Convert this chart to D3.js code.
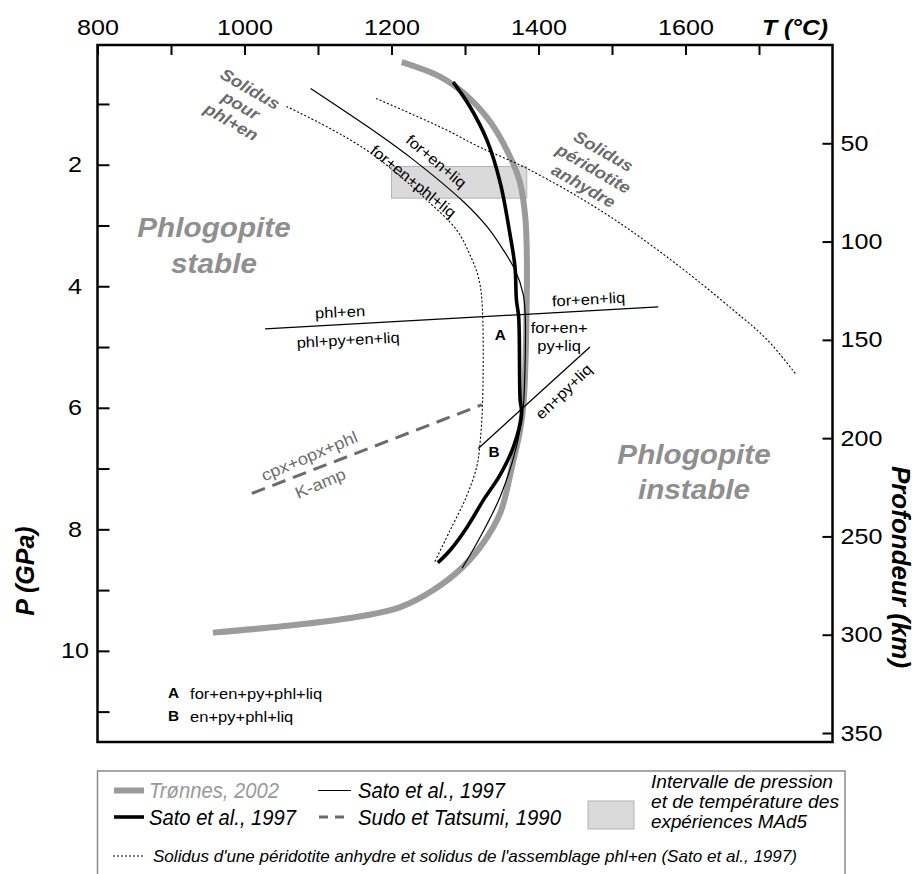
<!DOCTYPE html>
<html>
<head>
<meta charset="utf-8">
<script src="https://cdn.jsdelivr.net/npm/d3@7"></script>
<style>
  body { margin: 0; background: #fff; }
  svg { display: block; }
  text { font-family: "Liberation Sans", Arial, Helvetica, sans-serif; }
</style>
</head>
<body>
<svg id="chart" width="923" height="874"></svg>
<script>
// ---- Axis ticks -------------------------------------------------------
const tempTicks   = [800, 900, 1000, 1100, 1200, 1300, 1400, 1500, 1600, 1700];
const tempLabels  = [800, 1000, 1200, 1400, 1600];
const pressTicks  = [1, 2, 3, 4, 5, 6, 7, 8, 9, 10, 11];
const pressLabels = [2, 4, 6, 8, 10];
const depthTicks  = [50, 100, 150, 200, 250, 300, 350];

// ---- Phlogopite breakdown curve (Trønnes, 2002) : T (°C), P (GPa) ------
const tronnesT = [1214, 1266, 1302, 1334, 1361, 1375, 1382, 1384, 1384, 1380, 1375, 1365, 1348, 1325, 1297, 1257, 1212, 1144, 1031, 957];
const tronnesP = [0.31, 0.55, 0.86, 1.29, 1.86, 2.30, 2.86, 3.40, 4.23, 5.87, 6.37, 6.91, 7.73, 8.22, 8.62, 9.00, 9.28, 9.46, 9.62, 9.70];

// ---- Phlogopite-out curve, heavy line (Sato et al., 1997) -------------
const satoHeavyT = [1284, 1307, 1330, 1348, 1361, 1368, 1370, 1373, 1375, 1377, 1366, 1348, 1325, 1303, 1280, 1263];
const satoHeavyP = [0.64, 1.05, 1.60, 2.30, 3.13, 3.68, 4.23, 4.50, 5.87, 6.09, 6.64, 7.10, 7.52, 7.96, 8.34, 8.55];

// ---- Reaction curve, thin line (Sato et al., 1997) ---------------------
const satoThinT = [1090, 1184, 1230, 1298, 1330, 1352, 1368, 1379, 1382, 1380, 1378, 1370, 1348, 1316, 1296];
const satoThinP = [0.745, 1.51, 1.92, 2.61, 3.02, 3.40, 3.73, 4.12, 4.50, 5.87, 6.09, 6.64, 7.46, 8.23, 8.64];

// ---- Solidus of the phl+en assemblage ----------------------------------
const solidusPhlT = [1057, 1116, 1166, 1207, 1248, 1289, 1307, 1318, 1323, 1324, 1320, 1316, 1302, 1280, 1259];
const solidusPhlP = [1.04, 1.40, 1.76, 2.14, 2.58, 3.08, 3.49, 3.84, 4.23, 5.87, 6.64, 6.97, 7.46, 8.01, 8.53];

// ---- Anhydrous peridotite solidus --------------------------------------
const solidusPerT = [1179, 1230, 1275, 1320, 1384, 1484, 1574, 1665, 1711, 1751];
const solidusPerP = [0.91, 1.18, 1.43, 1.71, 2.06, 2.75, 3.51, 4.39, 4.88, 5.46];

// ---- Straight univariant reactions -------------------------------------
const phlEnLineT  = [1028, 1563];
const phlEnLineP  = [4.70, 4.34];
const enPyLineT   = [1318, 1470];
const enPyLineP   = [6.67, 5.00];
const sudoT       = [1010, 1323];   // Sudo et Tatsumi, 1990
const sudoP       = [7.41, 5.95];

// ---- P-T window of the MAd5 experiments --------------------------------
const expT = [1200, 1384];
const expP = [2.03, 2.55];

// ---- Layout --------------------------------------------------------------
const FRAME_TOP = 45, FRAME_BOTTOM = 742;
const x = d3.scaleLinear().domain([800, 1800]).range([97.5, 832.5]);
const y = d3.scaleLinear().domain([0, 11.5]).range([43.2, FRAME_BOTTOM]);
const depth = d3.scaleLinear().domain([0, 350]).range([FRAME_TOP, 733]);

const svg = d3.select('#chart');
const zip = (T, P) => T.map((t, i) => [t, P[i]]);
const curve = d3.line().x(d => x(d[0])).y(d => y(d[1])).curve(d3.curveCatmullRom.alpha(0.5));
const straight = d3.line().x(d => x(d[0])).y(d => y(d[1]));

// widen glyphs a little, as in the printed figure
function stretch(sel, k) {
  sel.each(function () {
    const w = this.getComputedTextLength();
    if (w > 0) {
      this.setAttribute('textLength', (w * k).toFixed(1));
      this.setAttribute('lengthAdjust', 'spacingAndGlyphs');
    }
  });
}

// ---- Experiment window -------------------------------------------------
svg.append('rect')
  .attr('x', x(expT[0])).attr('y', y(expP[0]))
  .attr('width', x(expT[1]) - x(expT[0])).attr('height', y(expP[1]) - y(expP[0]))
  .attr('fill', '#dadada').attr('stroke', '#b3b3b3').attr('stroke-width', 1);

// ---- Curves ------------------------------------------------------------
svg.append('path').attr('d', curve(zip(tronnesT, tronnesP)))
  .attr('fill', 'none').attr('stroke', '#9b9b9b').attr('stroke-width', 6);

svg.append('path').attr('d', curve(zip(solidusPhlT, solidusPhlP)))
  .attr('fill', 'none').attr('stroke', '#000').attr('stroke-width', 1.1).attr('stroke-dasharray', '2 2');
svg.append('path').attr('d', curve(zip(solidusPerT, solidusPerP)))
  .attr('fill', 'none').attr('stroke', '#000').attr('stroke-width', 1.1).attr('stroke-dasharray', '2 2');

svg.append('path').attr('d', curve(zip(satoThinT, satoThinP)))
  .attr('fill', 'none').attr('stroke', '#000').attr('stroke-width', 1.2);

svg.append('path').attr('d', curve(zip(satoHeavyT, satoHeavyP)))
  .attr('fill', 'none').attr('stroke', '#000').attr('stroke-width', 3.6);

svg.append('path').attr('d', straight(zip(sudoT, sudoP)))
  .attr('fill', 'none').attr('stroke', '#6b6b6b').attr('stroke-width', 3).attr('stroke-dasharray', '14 8');

svg.append('path').attr('d', straight(zip(phlEnLineT, phlEnLineP)))
  .attr('fill', 'none').attr('stroke', '#000').attr('stroke-width', 1.3);
svg.append('path').attr('d', straight(zip(enPyLineT, enPyLineP)))
  .attr('fill', 'none').attr('stroke', '#000').attr('stroke-width', 1.3);

// ---- Frame and axes ----------------------------------------------------
svg.append('rect')
  .attr('x', x(800)).attr('y', FRAME_TOP)
  .attr('width', x(1800) - x(800)).attr('height', FRAME_BOTTOM - FRAME_TOP)
  .attr('fill', 'none').attr('stroke', '#000').attr('stroke-width', 2.5);

const gTop = svg.append('g').attr('transform', `translate(0,${FRAME_TOP})`)
  .call(d3.axisTop(x).tickValues(tempTicks).tickSize(-10).tickPadding(10)
    .tickFormat(d => tempLabels.includes(d) ? d : ''));
const gLeft = svg.append('g').attr('transform', `translate(${x(800)},0)`)
  .call(d3.axisLeft(y).tickValues(pressTicks).tickSize(-12)
    .tickFormat(d => pressLabels.includes(d) ? d : ''));
const gRight = svg.append('g').attr('transform', `translate(${x(1800)},0)`)
  .call(d3.axisRight(depth).tickValues(depthTicks).tickSize(-10).tickPadding(8));

[gTop, gLeft, gRight].forEach(g => {
  g.select('.domain').remove();
  g.selectAll('.tick line').attr('stroke', '#000').attr('stroke-width', 2);
  g.selectAll('.tick text').attr('font-size', 22).attr('fill', '#000')
    .style('font-family', '"Liberation Sans", Arial, sans-serif');
});
gLeft.selectAll('.tick text').attr('x', 75 - x(800)).attr('text-anchor', 'middle');
[gTop, gLeft, gRight].forEach(g => stretch(g.selectAll('.tick text'), 1.14));

// axis titles
const tTitle = svg.append('text').attr('x', 828).attr('y', 35)
  .attr('text-anchor', 'end').attr('font-size', 22)
  .attr('font-weight', 'bold').attr('font-style', 'italic').text('T (°C)');
stretch(tTitle, 1.12);

svg.append('text').attr('transform', 'translate(25,571) rotate(-90)')
  .attr('text-anchor', 'middle').attr('dominant-baseline', 'central')
  .attr('font-size', 25).attr('font-weight', 'bold').attr('font-style', 'italic')
  .text('P (GPa)');

svg.append('text').attr('transform', 'translate(901,567) rotate(90)')
  .attr('text-anchor', 'middle').attr('dominant-baseline', 'central')
  .attr('font-size', 26).attr('font-weight', 'bold').attr('font-style', 'italic')
  .text('Profondeur (km)');

// ---- Annotations inside the plot (anchored in T, P) --------------------
const annotations = [
  { lines: ['Solidus', 'pour', 'phl+en'], T: 995, P: 1.02, rot: 30, size: 16.5, lh: 19, bold: true, italic: true, fill: '#6b6b6b' },
  { lines: ['Solidus', 'péridotite', 'anhydre'], T: 1475, P: 2.06, rot: 30, size: 16.5, lh: 20, bold: true, italic: true, fill: '#6b6b6b' },
  { lines: ['Phlogopite', 'stable'], T: 958.5, P: 3.33, rot: 0, size: 27, lh: 36, bold: true, italic: true, fill: '#8f8f8f' },
  { lines: ['Phlogopite', 'instable'], T: 1611.6, P: 7.07, rot: 0, size: 27, lh: 35, bold: true, italic: true, fill: '#8f8f8f' },
  { lines: ['for+en+liq'], T: 1261, P: 1.94, rot: 40, size: 15 },
  { lines: ['for+en+phl+liq'], T: 1230, P: 2.27, rot: 39, size: 15 },
  { lines: ['phl+en'], T: 1130, P: 4.42, rot: -3, size: 15 },
  { lines: ['phl+py+en+liq'], T: 1141, P: 4.88, rot: -3, size: 15 },
  { lines: ['for+en+liq'], T: 1468, P: 4.21, rot: -3, size: 15 },
  { lines: ['for+en+', 'py+liq'], T: 1428, P: 4.82, rot: 0, size: 15, lh: 18 },
  { lines: ['en+py+liq'], T: 1434, P: 5.73, rot: -44, size: 15 },
  { lines: ['A'], T: 1348, P: 4.80, rot: 0, size: 14, bold: true },
  { lines: ['B'], T: 1339.5, P: 6.72, rot: 0, size: 14, bold: true },
  { lines: ['cpx+opx+phl'], T: 1088, P: 6.79, rot: -23, size: 16.5, fill: '#6e6e6e' },
  { lines: ['K-amp'], T: 1103, P: 7.24, rot: -23, size: 16.5, fill: '#6e6e6e' }
];

annotations.forEach(a => {
  const g = svg.append('g')
    .attr('transform', `translate(${x(a.T)},${y(a.P)}) rotate(${a.rot})`);
  const n = a.lines.length;
  a.lines.forEach((ln, i) => {
    const t = g.append('text')
      .attr('x', 0).attr('y', (i - (n - 1) / 2) * (a.lh || 0))
      .attr('text-anchor', 'middle').attr('dominant-baseline', 'central')
      .attr('font-size', a.size)
      .attr('font-weight', a.bold ? 'bold' : 'normal')
      .attr('font-style', a.italic ? 'italic' : 'normal')
      .attr('fill', a.fill || '#000')
      .text(ln);
    stretch(t, 1.1);
  });
});

// key for the fields A and B
const fieldKey = [
  { tag: 'A', label: 'for+en+py+phl+liq', P: 10.70 },
  { tag: 'B', label: 'en+py+phl+liq', P: 11.08 }
];
fieldKey.forEach(k => {
  const a = svg.append('text').attr('x', x(896)).attr('y', y(k.P))
    .attr('dominant-baseline', 'central').attr('font-size', 14).attr('font-weight', 'bold').text(k.tag);
  stretch(a, 1.1);
  const b = svg.append('text').attr('x', x(926)).attr('y', y(k.P))
    .attr('dominant-baseline', 'central').attr('font-size', 15).text(k.label);
  stretch(b, 1.1);
});

// ---- Legend ------------------------------------------------------------
const LEG = { left: 97.5, right: 845, top: 771, bottom: 878 };
const r1 = 790.5, r2 = 817, rNote = 856;
svg.append('path')
  .attr('d', `M${LEG.left},${LEG.bottom}V${LEG.top}H${LEG.right}V${LEG.bottom}`)
  .attr('fill', 'none').attr('stroke', '#8a8a8a').attr('stroke-width', 1.5);

const legendLines = [
  { x0: 114, x1: 144, y: r1, stroke: '#9b9b9b', width: 6, dash: null },
  { x0: 318, x1: 351, y: r1, stroke: '#000', width: 1.2, dash: null },
  { x0: 114, x1: 144, y: r2, stroke: '#000', width: 3.6, dash: null },
  { x0: 319, x1: 351, y: r2, stroke: '#6b6b6b', width: 3, dash: '9 7' },
  { x0: 113, x1: 145, y: rNote, stroke: '#000', width: 1, dash: '2 2' }
];
legendLines.forEach(l => {
  svg.append('line').attr('x1', l.x0).attr('x2', l.x1).attr('y1', l.y).attr('y2', l.y)
    .attr('stroke', l.stroke).attr('stroke-width', l.width)
    .attr('stroke-dasharray', l.dash);
});
svg.append('rect').attr('x', 588).attr('y', 801).attr('width', 46).attr('height', 28)
  .attr('fill', '#dadada').attr('stroke', '#b3b3b3').attr('stroke-width', 1);

const legendTexts = [
  { text: 'Trønnes, 2002', x: 149, y: r1, w: 130, size: 22, fill: '#999' },
  { text: 'Sato et al., 1997', x: 358, y: r1, w: 147, size: 22 },
  { text: 'Sato et al., 1997', x: 149, y: r2, w: 147, size: 22 },
  { text: 'Sudo et Tatsumi, 1990', x: 358, y: r2, w: 203, size: 22 },
  { text: 'Intervalle de pression', x: 651, y: 781, w: 182, size: 19 },
  { text: 'et de température des', x: 651, y: 801, w: 188, size: 19 },
  { text: 'expériences MAd5', x: 651, y: 821, w: 156, size: 19 },
  { text: "Solidus d'une péridotite anhydre et solidus de l'assemblage phl+en (Sato et al., 1997)", x: 153, y: rNote, w: 644, size: 17 }
];
legendTexts.forEach(t => {
  svg.append('text').attr('x', t.x).attr('y', t.y)
    .attr('dominant-baseline', 'central')
    .attr('font-size', t.size).attr('font-style', 'italic')
    .attr('fill', t.fill || '#000')
    .attr('textLength', t.w).attr('lengthAdjust', 'spacingAndGlyphs')
    .text(t.text);
});
</script>
</body>
</html>
